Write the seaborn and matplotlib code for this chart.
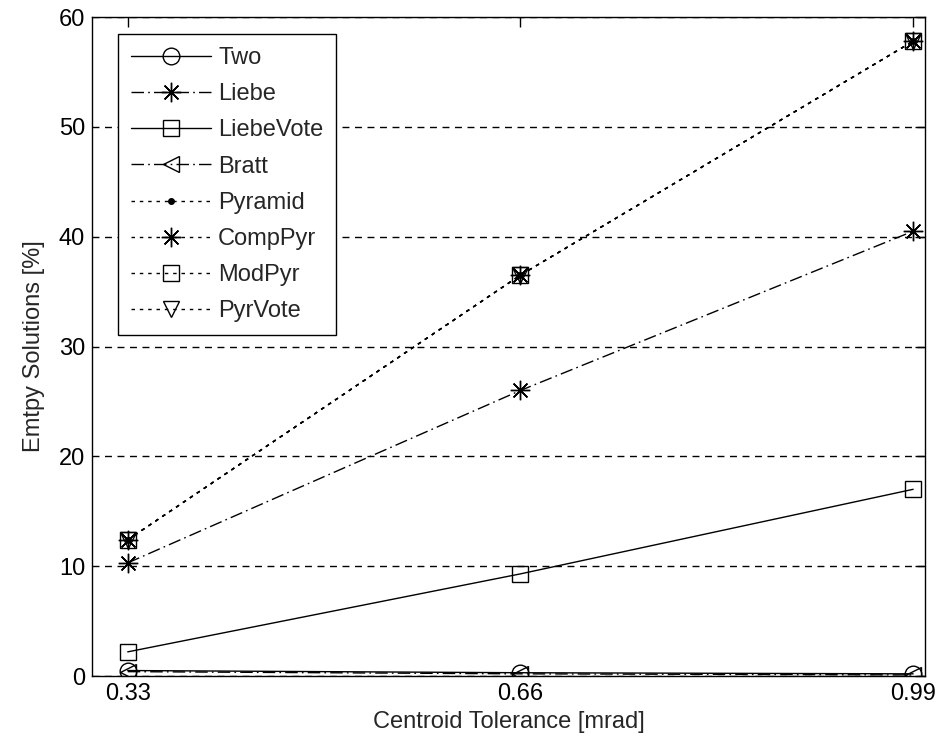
import matplotlib
matplotlib.use("Agg")
import matplotlib.pyplot as plt
import seaborn as sns

# Centroid tolerance values (mrad) on the x axis
tolerance = [0.33, 0.66, 0.99]

# Percentage of empty solutions per algorithm
two = [0.5, 0.3, 0.2]
liebe = [10.3, 26.0, 40.5]
liebe_vote = [2.2, 9.3, 17.0]
bratt = [0.4, 0.2, 0.1]
pyramid = [12.4, 36.5, 57.8]
comp_pyr = [12.4, 36.5, 57.8]
mod_pyr = [12.4, 36.5, 57.8]
pyr_vote = [12.4, 36.5, 57.8]

x_ticks = [0.33, 0.66, 0.99]
y_ticks = [0, 10, 20, 30, 40, 50, 60]

sns.set_style("white")
plt.rcParams["font.family"] = ["Liberation Sans", "DejaVu Sans"]
plt.rcParams["font.size"] = 17

fig = plt.figure(figsize=(9.4, 7.46), dpi=100)
ax = fig.add_axes([0.0979, 0.0938, 0.8862, 0.8834])

solid = "-"
dashdot = (0, (9, 3, 1.2, 3))
dotted = (0, (2.5, 3.5))

series = [
    ("Two", two, solid, "o", 12),
    ("Liebe", liebe, dashdot, (8, 2, 0), 14),
    ("LiebeVote", liebe_vote, solid, "s", 12),
    ("Bratt", bratt, dashdot, "<", 12),
    ("Pyramid", pyramid, dotted, ".", 8),
    ("CompPyr", comp_pyr, dotted, (8, 2, 0), 14),
    ("ModPyr", mod_pyr, dotted, "s", 12),
    ("PyrVote", pyr_vote, dotted, "v", 12),
]

for name, vals, ls, mk, ms in series:
    face = "k" if mk == "." else "none"
    sns.lineplot(
        x=tolerance, y=vals, ax=ax, color="k", linewidth=1.0,
        linestyle=ls, marker=mk, markersize=ms,
        markerfacecolor=face, markeredgecolor="k", markeredgewidth=1.0,
        label=name, estimator=None, sort=False,
    )

ax.set_xlim(0.30, 1.0)
ax.set_ylim(0, 60)
ax.set_xticks(x_ticks)
ax.set_xticklabels([f"{v:.2f}" for v in x_ticks])
ax.set_yticks(y_ticks)

ax.yaxis.grid(True, color="k", linestyle=(0, (5, 4)), linewidth=1.0)
ax.xaxis.grid(False)
ax.set_axisbelow(True)

for side in ax.spines.values():
    side.set_color("k")
    side.set_linewidth(1.0)

ax.tick_params(direction="in", length=7, width=1.0, colors="k",
               top=True, right=True, labelsize=17, pad=5)

ax.set_xlabel("Centroid Tolerance [mrad]", fontsize=17, labelpad=4)
ax.set_ylabel("Emtpy Solutions [%]", fontsize=17, labelpad=10)

leg = ax.legend(loc="upper left", bbox_to_anchor=(0.031, 0.974),
                fontsize=17, handlelength=3.4, handletextpad=0.3,
                labelspacing=0.6, borderpad=0.55, fancybox=False,
                framealpha=1, edgecolor="k", borderaxespad=0)
leg.get_frame().set_linewidth(1.0)

fig.savefig("out.png", dpi=100)
